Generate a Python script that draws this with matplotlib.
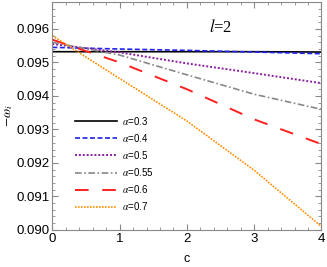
import matplotlib
matplotlib.use("Agg")
import matplotlib.pyplot as plt
from matplotlib.ticker import MultipleLocator, FormatStrFormatter

c = [0, 1, 2, 3, 4]
alphas = ["0.3", "0.4", "0.5", "0.55", "0.6", "0.7"]
w_03 = [0.09532, 0.09532, 0.09532, 0.09532, 0.09531]
w_04 = [0.09545, 0.09540, 0.09536, 0.09531, 0.09526]
w_05 = [0.09555, 0.09530, 0.09497, 0.09468, 0.09438]
w_055 = [0.09560, 0.09522, 0.09463, 0.09405, 0.09360]
w_06 = [0.09568, 0.09500, 0.09420, 0.09330, 0.09256]
w_07 = [0.09580, 0.09452, 0.09325, 0.09178, 0.09010]

plt.rcParams['font.family'] = ['Liberation Sans', 'DejaVu Sans']
plt.rcParams['mathtext.fontset'] = 'stix'

fig = plt.figure(figsize=(3.27, 2.67), dpi=100)
ax = fig.add_axes([0.16, 0.139, 0.823, 0.853])

styles = [
    dict(color='black', ls='-', lw=1.2),
    dict(color='#2222ee', ls=(0, (3, 1.5)), lw=1.2),
    dict(color='#8a1fa0', ls=(0, (1, 1)), lw=1.4),
    dict(color='#888888', ls=(0, (4, 1.5, 1, 1.5)), lw=1.2),
    dict(color='#ff2020', ls=(0, (7, 7)), lw=1.4),
    dict(color='#ff8c00', ls=(0, (1, 0.8)), lw=1.2),
]
series = [w_03, w_04, w_05, w_055, w_06, w_07]
for s, a, st in zip(series, alphas, styles):
    ax.plot(c, s, label=r'$\alpha$=' + a, **st)

ax.set_xlim(0, 4)
ax.set_ylim(0.0900, 0.0968)
ax.xaxis.set_major_locator(MultipleLocator(1))
ax.xaxis.set_minor_locator(MultipleLocator(0.2))
ax.yaxis.set_major_locator(MultipleLocator(0.001))
ax.yaxis.set_minor_locator(MultipleLocator(0.0002))
ax.yaxis.set_major_formatter(FormatStrFormatter('%.3f'))
ax.tick_params(which='both', direction='in', top=True, right=True, color='#888888', labelsize=9.5, pad=2)
ax.tick_params(which='major', length=4, width=0.8)
ax.tick_params(which='minor', length=2, width=0.6)
for sp in ax.spines.values():
    sp.set_color('#888888')
    sp.set_linewidth(0.8)

ax.set_xlabel('c', fontsize=9, labelpad=6)
ax.set_ylabel(r'$-\omega_i$', fontsize=9.5, labelpad=1)

ax.text(0.627, 0.89, r'$l$=2', transform=ax.transAxes, fontsize=12,
        family='Liberation Serif', ha='center', va='center')

leg = ax.legend(loc='lower left', bbox_to_anchor=(0.05, 0.04), frameon=False,
                fontsize=7, handlelength=4.4, handletextpad=0.45, labelspacing=0.52)

fig.savefig('out.png', dpi=100)
